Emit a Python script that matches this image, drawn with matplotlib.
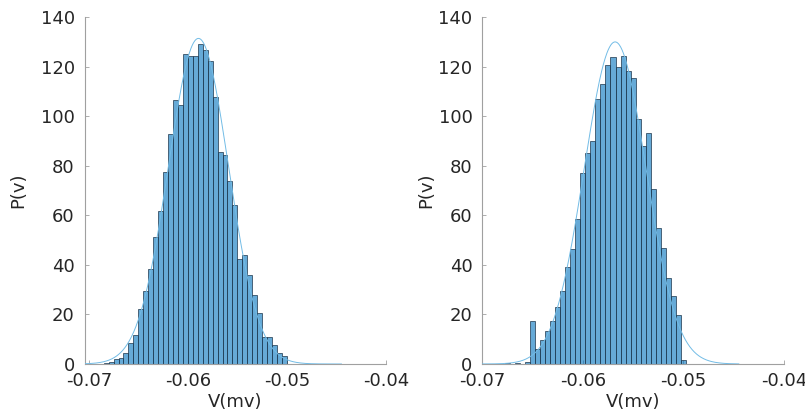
import numpy as np
import matplotlib
matplotlib.use("Agg")
import matplotlib.pyplot as plt

# Histogram (pdf-normalised) of membrane voltage, two conditions
bin_width = 0.0005

left_first_edge = -0.0700
left_density = [
    0.2, 0.0, 0.2, 0.5, 0.9, 2.2, 2.5, 4.6, 8.5, 11.7,
    22.0, 29.4, 38.2, 51.2, 61.8, 77.5, 92.8, 106.6, 104.6, 125.2,
    124.4, 124.4, 129.1, 126.8, 122.3, 107.8, 85.7, 84.5, 74.0, 64.1,
    42.2, 44.1, 36.1, 28.0, 20.4, 10.9, 10.9, 7.6, 4.4, 3.2,
]
left_fit_mean = -0.05893
left_fit_std = 0.003036

right_first_edge = -0.06775
right_density = [
    0.3, 0.0, 0.4, 0.0, 1.0,
    17.3, 6.2, 9.7, 13.3, 17.3, 22.9, 29.4, 39.0, 46.6, 58.7,
    76.9, 85.3, 90.0, 106.8, 113.0, 120.6, 124.0, 119.8, 124.3, 118.1,
    115.4, 98.9, 88.1, 93.3, 70.6, 54.8, 46.9, 34.7, 27.5, 19.7, 1.6,
]
right_fit_mean = -0.05679
right_fit_std = 0.003069

x_ticks = [-0.07, -0.06, -0.05, -0.04]
x_tick_labels = ["-0.07", "-0.06", "-0.05", "-0.04"]
y_ticks = [0, 20, 40, 60, 80, 100, 120, 140]
curve_range = (-0.0705, -0.0445)

plt.rcParams["font.family"] = ["DejaVu Sans"]

fig = plt.figure(figsize=(8.05, 4.12), dpi=100)
ax_l = fig.add_axes([0.1050, 0.1165, 0.3745, 0.8420])
ax_r = fig.add_axes([0.5990, 0.1165, 0.3750, 0.8420])

bar_face = (0.0, 0.447, 0.741, 0.6)
bar_edge = (0.12, 0.22, 0.30, 0.85)
fit_color = "#72bce6"
axis_gray = "#a0a0a0"
text_color = "#262626"


def draw_panel(ax, first_edge, density, mu, sd, xlim, ylabel_x):
    density = np.asarray(density)
    lefts = first_edge + bin_width * np.arange(len(density))
    ax.bar(lefts, density, width=bin_width, align="edge",
           color=bar_face, edgecolor=bar_edge, linewidth=0.6, zorder=2)
    xs = np.linspace(curve_range[0], curve_range[1], 600)
    pdf = np.exp(-0.5 * ((xs - mu) / sd) ** 2) / (sd * np.sqrt(2 * np.pi))
    ax.plot(xs, pdf, color=fit_color, linewidth=0.7, zorder=3)

    ax.set_xlim(*xlim)
    ax.set_ylim(0, 140)
    ax.set_xticks(x_ticks)
    ax.set_xticklabels(x_tick_labels)
    ax.set_yticks(y_ticks)
    for side in ("top", "right"):
        ax.spines[side].set_visible(False)
    for side in ("left", "bottom"):
        ax.spines[side].set_color(axis_gray)
        ax.spines[side].set_linewidth(0.8)
    ax.tick_params(axis="both", direction="in", length=3, width=0.6,
                   color=axis_gray, labelsize=13, labelcolor=text_color)
    ax.tick_params(axis="y", pad=7)
    ax.tick_params(axis="x", pad=6)
    ax.set_xlabel("V(mv)", fontsize=13, color=text_color, labelpad=2)
    ax.set_ylabel("P(v)", fontsize=13, color=text_color)
    ax.yaxis.set_label_coords(ylabel_x, 0.5)


draw_panel(ax_l, left_first_edge, left_density, left_fit_mean, left_fit_std,
           (-0.07043, -0.04), -0.189)
draw_panel(ax_r, right_first_edge, right_density, right_fit_mean, right_fit_std,
           (-0.0700, -0.04), -0.155)

fig.savefig("out.png", dpi=100)
